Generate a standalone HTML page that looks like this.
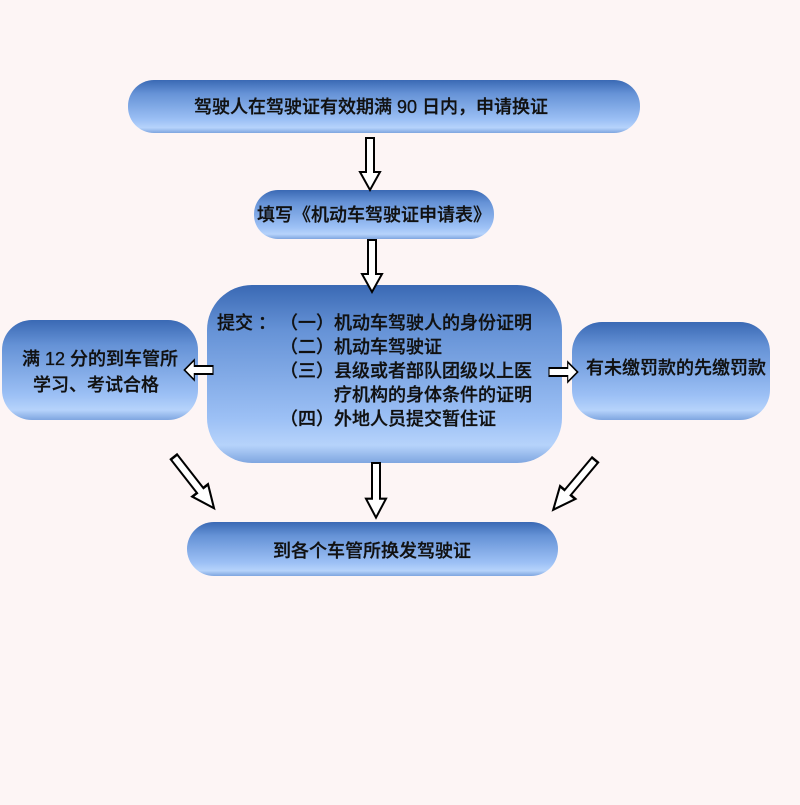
<!DOCTYPE html>
<html><head><meta charset="utf-8"><style>
body{margin:0;background:#fdf5f5;}
svg text{font-family:"Liberation Sans","Noto Sans CJK SC",sans-serif;font-size:18px;fill:#111;font-weight:500;stroke:#111;stroke-width:0.3}
</style></head><body>
<svg width="800" height="800" xmlns="http://www.w3.org/2000/svg">
<defs>
<linearGradient id="g" x1="0" y1="0" x2="0" y2="1">
<stop offset="0" stop-color="#3a69b4"/>
<stop offset="0.25" stop-color="#6592d6"/>
<stop offset="0.75" stop-color="#9cc0f5"/>
<stop offset="0.9" stop-color="#b6d3fb"/>
<stop offset="1" stop-color="#7fa6e0"/>
</linearGradient>
<g id="ar"><path d="M-4,0 L4,0 L4,34 L10,34 L0,52 L-10,34 L-4,34 Z" fill="#fff" stroke="#000" stroke-width="2"/></g>
</defs>
<rect x="0" y="0" width="800" height="800" fill="#fdf5f5"/>
<rect x="128" y="80" width="512" height="53" rx="26" fill="url(#g)"/>
<rect x="254" y="190" width="240" height="49" rx="24" fill="url(#g)"/>
<rect x="207" y="285" width="355" height="178" rx="45" fill="url(#g)"/>
<rect x="2" y="320" width="196" height="100" rx="30" fill="url(#g)"/>
<rect x="572" y="322" width="198" height="98" rx="30" fill="url(#g)"/>
<rect x="187" y="522" width="371" height="54" rx="27" fill="url(#g)"/>

<use href="#ar" transform="translate(370,138)"/>
<use href="#ar" transform="translate(372,240)"/>
<use href="#ar" transform="translate(376,463) scale(1,1.05)"/>
<use href="#ar" transform="translate(213,370) rotate(90) scale(1,0.55)"/>
<use href="#ar" transform="translate(549,372) rotate(-90) scale(1,0.55)"/>
<use href="#ar" transform="translate(174,457) rotate(-38) scale(1,1.25)"/>
<use href="#ar" transform="translate(595,460) rotate(40) scale(1,1.25)"/>

<text x="371" y="113" text-anchor="middle">驾驶人在驾驶证有效期满 90 日内，申请换证</text>
<text x="374" y="221" text-anchor="middle">填写《机动车驾驶证申请表》</text>
<text x="217" y="329">提交 ：</text>
<text x="280" y="329">（一）机动车驾驶人的身份证明</text>
<text x="280" y="353">（二）机动车驾驶证</text>
<text x="280" y="377">（三）县级或者部队团级以上医</text>
<text x="334" y="401">疗机构的身体条件的证明</text>
<text x="280" y="425">（四）外地人员提交暂住证</text>
<text x="100" y="365" text-anchor="middle">满 12 分的到车管所</text>
<text x="96" y="391" text-anchor="middle">学习、考试合格</text>
<text x="676" y="374" text-anchor="middle">有未缴罚款的先缴罚款</text>
<text x="372" y="557" text-anchor="middle">到各个车管所换发驾驶证</text>
</svg>
</body></html>
